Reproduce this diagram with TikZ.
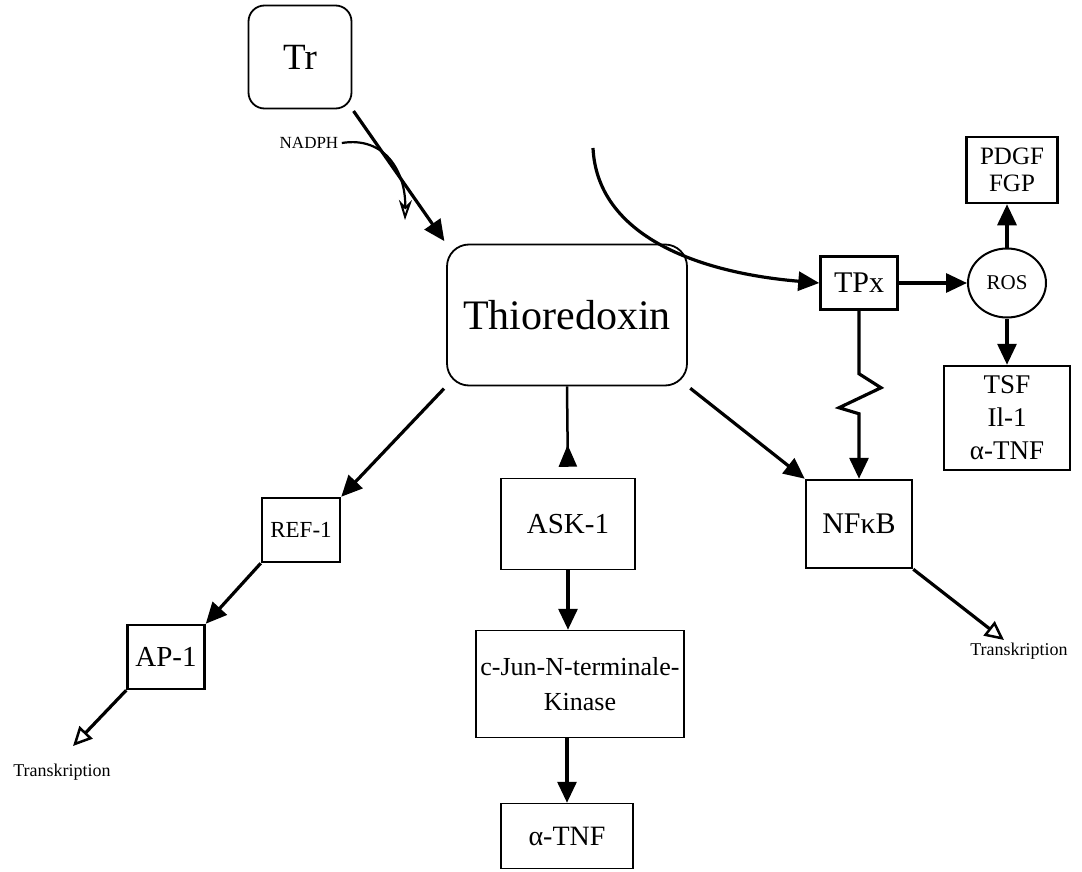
\documentclass[tikz,border=0pt]{standalone}
\usepackage{fontspec}
\setmainfont{Liberation Serif}
\usetikzlibrary{arrows.meta,shapes.geometric}

\begin{document}
\begin{tikzpicture}[x=1pt, y=-1pt,
    caja/.style={draw, line width=2.5pt, inner sep=0pt, align=center},
    cajafina/.style={draw, line width=1.5pt, inner sep=0pt, align=center},
    redonda/.style={draw, line width=1.8pt, rounded corners=22pt, inner sep=0pt},
    letra/.style 2 args={font=\fontsize{#1}{#2}\selectfont},
    flecha/.style={line width=3.2pt, -{Triangle[length=21pt,width=19pt]}},
    hueca/.style={line width=3.2pt, -{Triangle[open,length=19pt,width=18pt,line width=2.5pt]}}]
            \useasboundingbox (0,0) rectangle (1082,872);

            % Tr y Thioredoxin
            \node[redonda, rounded corners=16pt, minimum width=103pt, minimum height=103pt, letra={37}{40}] (tr) at (300,57) {Tr};
            \node[redonda, minimum width=240pt, minimum height=141pt, letra={42}{46}] (thio) at (567,315) {Thioredoxin};
            \node[letra={17}{18}] (nadph) at (309,143) {NADPH};

            % rama de TPx
            \node[caja, minimum width=77pt, minimum height=53pt, letra={30}{32}] (tpx) at (859,283) {TPx};
            \node[draw, ellipse, line width=2pt, inner sep=0pt, minimum width=78pt, minimum height=69pt, letra={21}{22}] (ros) at (1007,283) {ROS};
            \node[caja, minimum width=91pt, minimum height=66pt, letra={25}{27}] (pdgf) at (1012,170) {PDGF\\FGP};
            \node[caja, minimum width=126pt, minimum height=104pt, letra={27}{33}] (tsf) at (1007,418) {TSF\\Il-1\\α-TNF};
            \node[caja, minimum width=106pt, minimum height=88pt, letra={30}{32}] (nfkb) at (859,524) {NFκB};

            % cascada de la izquierda y del centro
            \node[caja, minimum width=78pt, minimum height=64pt, letra={23}{25}] (ref) at (301,530) {REF-1};
            \node[caja, minimum width=77pt, minimum height=64pt, letra={29}{31}] (ap) at (166,657) {AP-1};
            \node[cajafina, minimum width=134pt, minimum height=91pt, letra={29}{31}] (ask) at (568,524) {ASK-1};
            \node[cajafina, minimum width=208pt, minimum height=107pt, letra={26}{35}] (jnk) at (580,684) {c-Jun-N-terminale-\\Kinase};
            \node[cajafina, minimum width=132pt, minimum height=65pt, letra={28}{30}] (tnf) at (567,836) {α-TNF};

            \node[letra={18}{20}] (trans1) at (62,772) {Transkription};
            \node[letra={18}{20}] (trans2) at (1019,651) {Transkription};
            \coordinate (fin1) at (73,746);
            \coordinate (fin2) at (1004,640);
            \coordinate (origen) at (593,148);
            \coordinate (nadfin) at (405,220);

            % flechas
            \draw[flecha, shorten <=2pt, shorten >=3pt] (tr.south east) -- (thio.north west);
            \draw[line width=2.2pt, -{Stealth[open,length=20pt,width=13pt,line width=2pt]}] (nadph.east) .. controls (385,136) and (406,172) .. (nadfin);
            \draw[flecha, shorten <=3pt] (thio.south west) -- (ref.north east);
            \draw[flecha, shorten <=3pt] (thio.south east) -- (nfkb.north west);
            \draw[line width=2.5pt, -{Triangle[reversed,length=22pt,width=18pt]}, shorten >=11pt] (thio.south) -- (ask.north);
            \draw[flecha] (ref.south west) -- (ap.north east);
            \draw[hueca] (ap.south west) -- (fin1);
            \draw[hueca] (nfkb.south east) -- (fin2);
            \draw[flecha] (ask.south) -- (ask.south |- jnk.north);
            \draw[flecha] (tnf.north |- jnk.south) -- (tnf.north);
            \draw[flecha] (origen) .. controls (597,232) and (690,272) .. (tpx.west);
            \draw[flecha] (tpx) -- (ros);
            \draw[flecha] (ros.north) -- (ros.north |- pdgf.south);
            \draw[flecha] (ros) -- (tsf);
            \draw[flecha] (tpx.south) -- ++(0,63) -- ++(22,14) -- ++(-42,20) -- ++(20,6) -- (nfkb.north);
        \end{tikzpicture}
\end{document}
